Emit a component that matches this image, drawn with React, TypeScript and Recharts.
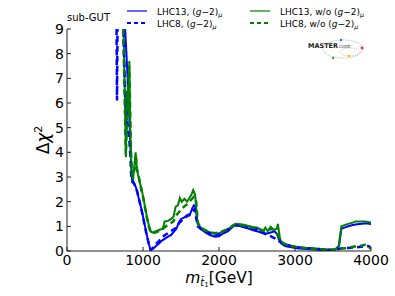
import React from 'react';
import { LineChart, Line, XAxis, YAxis } from 'recharts';

// m_stop [GeV], delta chi^2
const lhc13With: [number, number][] = [
  [755, 9.6], [790, 7.5], [815, 5.8], [830, 4.6], [845, 3.5], [855, 2.9], [870, 2.85], [890, 2.7],
  [910, 2.55], [930, 2.3], [960, 1.95], [990, 1.55], [1020, 1.1], [1050, 0.65], [1080, 0.25], [1100, 0.03],
  [1130, 0.08], [1170, 0.2], [1210, 0.3], [1250, 0.42], [1290, 0.5], [1330, 0.58], [1370, 0.65], [1410, 0.8],
  [1440, 0.9], [1470, 1.15], [1500, 1.3], [1540, 1.35], [1580, 1.45], [1620, 1.5], [1650, 1.75], [1670, 1.85],
  [1690, 1.8], [1720, 1.1], [1760, 0.9], [1820, 0.75], [1880, 0.65], [1950, 0.58], [2000, 0.6], [2060, 0.72],
  [2120, 0.8], [2170, 0.95], [2210, 1.05], [2260, 1.02], [2320, 0.97], [2380, 0.92], [2440, 0.85], [2500, 0.8],
  [2560, 0.75], [2620, 0.7], [2680, 0.75], [2730, 0.8], [2760, 0.7], [2790, 0.45], [2820, 0.3], [2870, 0.2],
  [2950, 0.15], [3050, 0.1], [3150, 0.08], [3250, 0.06], [3350, 0.04], [3450, 0.03], [3520, 0.05], [3560, 0.15],
  [3580, 0.2], [3610, 0.9], [3650, 0.95], [3700, 1.0], [3760, 1.05], [3820, 1.08], [3880, 1.1], [3940, 1.12],
  [3980, 1.1], [4000, 1.08],
];

const lhc13Without: [number, number][] = [
  [740, 9.8], [760, 6.5], [775, 3.8], [790, 6.5], [805, 5.5], [820, 7.7], [835, 4.5], [850, 3.2],
  [868, 2.9], [885, 3.4], [903, 4.0], [918, 3.4], [935, 3.1], [955, 2.8], [975, 2.6], [995, 2.3],
  [1020, 1.9], [1050, 1.4], [1080, 1.0], [1105, 0.78], [1130, 0.74], [1170, 0.8], [1210, 0.85], [1260, 0.9],
  [1285, 1.2], [1330, 1.22], [1370, 1.3], [1400, 1.38], [1430, 1.8], [1460, 1.85], [1485, 2.15], [1510, 2.0],
  [1545, 2.12], [1580, 2.0], [1610, 2.15], [1640, 2.3], [1660, 2.47], [1685, 2.3], [1715, 1.2], [1740, 1.0],
  [1800, 0.85], [1860, 0.78], [1940, 0.7], [2000, 0.72], [2060, 0.8], [2120, 0.88], [2170, 1.0], [2220, 1.1],
  [2280, 1.08], [2340, 1.05], [2400, 1.0], [2450, 0.95], [2500, 0.95], [2540, 0.88], [2580, 0.8], [2610, 0.95],
  [2640, 0.8], [2680, 0.98], [2720, 0.85], [2760, 0.9], [2775, 1.1], [2800, 0.55], [2820, 0.35], [2880, 0.28],
  [2950, 0.2], [3050, 0.15], [3150, 0.12], [3250, 0.1], [3350, 0.08], [3450, 0.05], [3520, 0.05], [3570, 0.12],
  [3610, 1.0], [3650, 1.05], [3700, 1.1], [3760, 1.15], [3800, 1.2], [3860, 1.2], [3920, 1.2], [3960, 1.18],
  [4000, 1.15],
];

const lhc8With: [number, number][] = [
  [650, 9.8], [658, 6.1], [666, 9.8], [740, 9.8], [750, 8.0], [770, 6.0], [800, 5.0], [820, 4.5],
  [835, 3.8], [845, 3.0], [860, 2.8], [880, 2.75], [900, 2.6], [925, 2.4], [955, 2.0], [985, 1.6],
  [1015, 1.15], [1045, 0.7], [1075, 0.3], [1100, 0.05], [1130, 0.12], [1170, 0.28], [1210, 0.4], [1250, 0.55],
  [1290, 0.65], [1340, 0.75], [1390, 0.85], [1440, 0.95], [1480, 1.15], [1530, 1.28], [1575, 1.4], [1610, 1.45],
  [1650, 1.6], [1680, 1.7], [1720, 1.0], [1800, 0.8], [1900, 0.7], [1950, 0.62], [2000, 0.68], [2100, 0.85],
  [2200, 1.05], [2300, 1.0], [2400, 0.93], [2500, 0.88], [2560, 0.75], [2620, 0.68], [2680, 0.6], [2740, 0.5],
  [2800, 0.38], [2850, 0.3], [2950, 0.2], [3100, 0.12], [3300, 0.08], [3450, 0.05], [3550, 0.05], [3600, 0.1],
  [3700, 0.12], [3800, 0.15], [3900, 0.18], [3960, 0.2], [4000, 0.15],
];

const lhc8Without: [number, number][] = [
  [735, 9.8], [760, 6.0], [775, 3.9], [795, 6.2], [820, 7.5], [840, 4.2], [855, 3.1], [870, 3.0],
  [890, 3.4], [905, 3.9], [920, 3.3], [945, 3.0], [970, 2.6], [1000, 2.2], [1030, 1.7], [1060, 1.2],
  [1090, 0.85], [1120, 0.72], [1160, 0.75], [1200, 0.8], [1250, 0.87], [1300, 1.0], [1350, 1.1], [1400, 1.2],
  [1440, 1.45], [1480, 1.6], [1520, 1.75], [1560, 1.85], [1600, 1.95], [1640, 2.1], [1670, 2.2], [1700, 2.0],
  [1720, 1.15], [1760, 0.95], [1850, 0.8], [1940, 0.72], [2000, 0.75], [2100, 0.87], [2200, 1.05], [2300, 1.05],
  [2400, 0.98], [2500, 0.92], [2580, 0.82], [2640, 0.85], [2700, 0.9], [2760, 0.75], [2800, 0.45], [2850, 0.3],
  [2950, 0.2], [3100, 0.13], [3300, 0.08], [3450, 0.05], [3550, 0.06], [3620, 0.1], [3700, 0.12], [3780, 0.18],
  [3850, 0.2], [3920, 0.25], [3960, 0.2], [4000, 0.08],
];

const xTicks = [0, 1000, 2000, 3000, 4000];
const yTicks = [0, 1, 2, 3, 4, 5, 6, 7, 8, 9];

const BLUE = '#0000ff';
const GREEN = '#008000';
const FONT = '"DejaVu Sans", sans-serif';

const toRows = (pts: [number, number][]) => pts.map(([m, chi]) => ({ m, chi }));

const GMinus2 = ({ size }: { size: number }) => (
  <>
    <tspan>(</tspan>
    <tspan fontStyle="italic">g</tspan>
    <tspan>{'\u2212'}2)</tspan>
    <tspan fontStyle="italic" fontSize={size * 0.7} dy={2}>μ</tspan>
  </>
);

const LegendItem = ({ x, y, color, dashed, label }: { x: number; y: number; color: string; dashed: boolean; label: string }) => (
  <g>
    <line x1={x} x2={x + 20} y1={y} y2={y} stroke={color} strokeWidth={dashed ? 2 : 1.2} strokeDasharray={dashed ? '4 3' : undefined} />
    <text x={x + 30} y={y + 3.5} fontSize={9} fontFamily={FONT} fill="#000">
      {label} <GMinus2 size={9} />
    </text>
  </g>
);

export default function App() {
  return (
    <div style={{ position: 'absolute', left: 0, top: 0, width: 395, height: 296, background: '#fff' }}>
      <LineChart width={395} height={296} margin={{ top: 29, right: 24, bottom: 15, left: 17 }}>
        <XAxis xAxisId="b" dataKey="m" type="number" domain={[0, 4000]} ticks={xTicks} allowDataOverflow
          height={30} tickSize={-4} tickMargin={8} stroke="#222"
          tick={{ fontSize: 14, fontFamily: FONT, fill: '#000' }} />
        <XAxis xAxisId="t" orientation="top" dataKey="m" type="number" domain={[0, 4000]} ticks={xTicks} allowDataOverflow
          height={0} tickSize={-4} tick={false} stroke="#222" />
        <YAxis yAxisId="l" dataKey="chi" type="number" domain={[0, 9]} ticks={yTicks} allowDataOverflow
          width={50} tickSize={-4} tickMargin={7} stroke="#222"
          tick={{ fontSize: 14, fontFamily: FONT, fill: '#000' }} />
        <YAxis yAxisId="r" orientation="right" dataKey="chi" type="number" domain={[0, 9]} ticks={yTicks} allowDataOverflow
          width={0} tickSize={-4} tick={false} stroke="#222" />
        <Line data={toRows(lhc13With)} dataKey="chi" xAxisId="b" yAxisId="l" type="linear" dot={false}
          stroke={BLUE} strokeWidth={2} isAnimationActive={false} />
        <Line data={toRows(lhc13Without)} dataKey="chi" xAxisId="b" yAxisId="l" type="linear" dot={false}
          stroke={GREEN} strokeWidth={2} isAnimationActive={false} />
        <Line data={toRows(lhc8With)} dataKey="chi" xAxisId="b" yAxisId="l" type="linear" dot={false}
          stroke={BLUE} strokeWidth={2.5} strokeDasharray="6 4" isAnimationActive={false} />
        <Line data={toRows(lhc8Without)} dataKey="chi" xAxisId="b" yAxisId="l" type="linear" dot={false}
          stroke={GREEN} strokeWidth={2.5} strokeDasharray="6 4" isAnimationActive={false} />
        <Line data={[]} dataKey="chi" xAxisId="t" yAxisId="r" dot={false} isAnimationActive={false} />
      </LineChart>

      <svg width={395} height={296} style={{ position: 'absolute', left: 0, top: 0, pointerEvents: 'none' }}>
        <text x={67} y={21} fontSize={10} fontFamily={FONT}>sub-GUT</text>
        <LegendItem x={127} y={11} color={BLUE} dashed={false} label="LHC13," />
        <LegendItem x={127} y={23} color={BLUE} dashed label="LHC8," />
        <LegendItem x={250} y={11} color={GREEN} dashed={false} label="LHC13, w/o" />
        <LegendItem x={250} y={23} color={GREEN} dashed label="LHC8, w/o" />

        {/* mastercode logo */}
        <ellipse cx={343} cy={49} rx={20} ry={9} fill="none" stroke="#999" strokeWidth={0.6} strokeDasharray="1.5 1" />
        <ellipse cx={350} cy={52} rx={10} ry={4} fill="none" stroke="#999" strokeWidth={0.5} strokeDasharray="1.5 1" />
        <text x={308} y={48} fontSize={6.5} fontWeight="bold" fontFamily={FONT} fill="#222">
          MASTER<tspan fontSize={4} fontWeight="normal" fill="#333" dx={1}>CODE</tspan>
        </text>
        <circle cx={341} cy={40} r={1.2} fill="#3a6fd8" />
        <circle cx={362} cy={48} r={1.4} fill="#e03030" />
        <circle cx={333} cy={58} r={1.2} fill="#3aa040" />
        <circle cx={349} cy={56} r={1.3} fill="#f0c020" />

        <text transform="translate(49,140) rotate(-90)" textAnchor="middle" fontSize={17} fontFamily={FONT}>
          <tspan>Δ</tspan>
          <tspan fontStyle="italic">χ</tspan>
          <tspan fontSize={11} dy={-7}>2</tspan>
        </text>
        <text x={219} y={283} textAnchor="middle" fontFamily={FONT} fontSize={15.5}>
          <tspan fontStyle="italic">m</tspan>
          <tspan fontStyle="italic" fontSize={10} dy={3}>{'t\u0303'}</tspan>
          <tspan fontSize={7} dy={1}>1</tspan>
          <tspan dy={-4}>[GeV]</tspan>
        </text>
      </svg>
    </div>
  );
}
